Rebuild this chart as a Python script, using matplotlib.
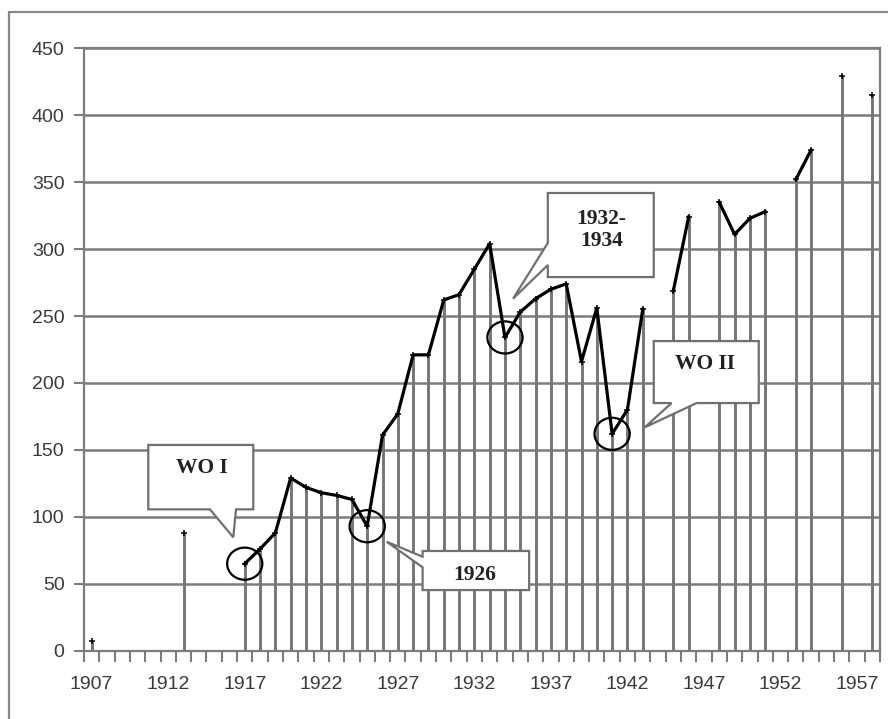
import numpy as np
import matplotlib
matplotlib.use("Agg")
import matplotlib.pyplot as plt
from matplotlib.patches import Polygon, Ellipse, Rectangle

# ---------------- data ----------------
years = list(range(1907, 1959))
values = [7, None, None, None, None, None, 88, None, None, None,
          65, 76, 88, 129, 122, 118, 116, 113, 93, 161,
          177, 221, 221, 262, 266, 285, 304, 234, 253, 263,
          270, 274, 216, 256, 162, 180, 255, None, 269, 324,
          None, 335, 311, 323, 328, None, 352, 374, None, 429,
          None, 415]
tick_years = [1907, 1912, 1917, 1922, 1927, 1932, 1937, 1942, 1947, 1952, 1957]
y_ticks = [0, 50, 100, 150, 200, 250, 300, 350, 400, 450]
circled_years = [1917, 1925, 1934, 1941]

# ---------------- figure ----------------
W, H = 888, 719
fig = plt.figure(figsize=(W / 100, H / 100), dpi=100)
fig.patch.set_facecolor("white")
ax = fig.add_axes([84 / W, 68.3 / H, 796 / W, 602.4 / H])

GRID = "#7c7c7c"
TXT = "#3a3a3a"
sans = ["Liberation Sans", "DejaVu Sans"]
serif = ["Liberation Serif", "DejaVu Serif"]

x = np.array(years, dtype=float)
y = np.array([np.nan if v is None else v for v in values], dtype=float)
ok = ~np.isnan(y)

ax.set_xlim(years[0] - 0.5, years[-1] + 0.5)
ax.set_ylim(0, 450)

# horizontal grid
ax.set_yticks(y_ticks)
ax.yaxis.grid(True, color=GRID, lw=1.8, zorder=0)
ax.set_axisbelow(True)

# drop lines
ax.vlines(x[ok], 0, y[ok], color="#767676", lw=2.1, zorder=2)

# data line
ax.plot(x, y, color="black", lw=2.3, marker="+", ms=4.5, mew=1.1, zorder=4)

# ticks
ax.set_xticks(tick_years)
ax.set_xticklabels([str(t) for t in tick_years], family=sans, fontsize=14, color=TXT)
ax.set_xticks(np.arange(years[0] - 0.5, years[-1] + 1.0, 1.0), minor=True)
ax.tick_params(axis="x", which="major", length=0, pad=18)
ax.tick_params(axis="x", which="minor", length=8, width=1.5, color=GRID, direction="out")
ax.set_yticklabels([str(t) for t in y_ticks], family=sans, fontsize=14, color=TXT)
ax.tick_params(axis="y", length=7, width=1.5, color=GRID, direction="out", pad=7)

for s in ax.spines.values():
    s.set_color(GRID)
    s.set_linewidth(1.6)

# circles around key points
val = dict(zip(years, values))
for yr in circled_years:
    ax.add_patch(Ellipse((yr, val[yr]), width=2.3, height=24, fill=False,
                         ec="black", lw=1.6, zorder=6))

# callouts (box + pointer)
def callout(x0, x1, y0, y1, tail, text, tx, ty, side="bottom"):
    b1, tip, b2 = tail
    if side == "bottom":
        pts = [(x0, y1), (x1, y1), (x1, y0), (b2, y0), tip, (b1, y0), (x0, y0)]
    else:  # left edge
        pts = [(x0, y1), (x1, y1), (x1, y0), (x0, y0), (x0, b2), tip, (x0, b1)]
    ax.add_patch(Polygon(pts, closed=True, fc="white", ec="#707070", lw=1.6, zorder=7))
    ax.text(tx, ty, text, ha="center", va="center", family=serif, weight="bold",
            fontsize=15.5, color="#222222", zorder=8, linespacing=1.15)

callout(1910.70, 1917.56, 105.6, 153.7, (1914.73, (1916.25, 84.7), 1916.43),
        "WO I", 1914.18, 136.3, side="bottom")
callout(1928.62, 1935.58, 45.3, 74.5, (70.2, (1926.27, 81.4), 62.3),
        "1926", 1932.02, 56.5, side="left")
callout(1936.80, 1943.72, 279.1, 341.9, (304.6, (1934.53, 263.0), 288.1),
        "1932-\n1934", 1940.31, 314.3, side="left")
callout(1943.72, 1950.58, 185.0, 231.3, (1944.88, (1943.14, 166.9), 1946.52),
        "WO II", 1947.05, 214.5, side="bottom")

# outer chart frame
fig.add_artist(Rectangle((9 / W, -0.1), 1.2, 1.1 - 12 / H, transform=fig.transFigure,
                         fill=False, ec="#8a8a8a", lw=1.6))

fig.savefig("out.png", dpi=100)
